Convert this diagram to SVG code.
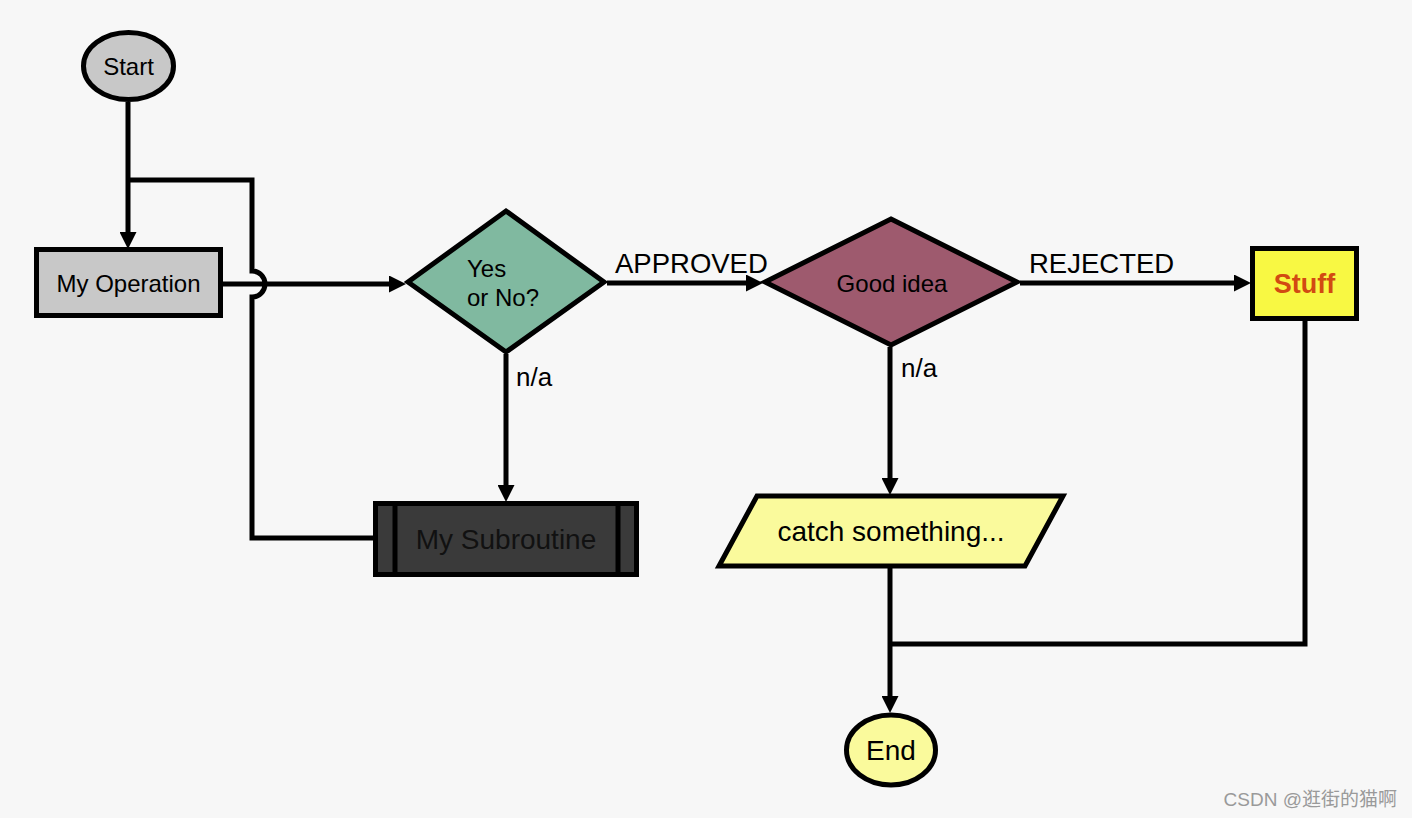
<svg xmlns="http://www.w3.org/2000/svg" width="1412" height="818" viewBox="0 0 1412 818">
<defs>
<marker id="arr" markerUnits="userSpaceOnUse" markerWidth="17" markerHeight="17" refX="8" refY="8.5" orient="auto">
<path d="M0,0 L17,8.5 L0,17 z" fill="#000"/>
</marker>
<style>
.sh{stroke:#000;stroke-width:5}
.c{fill:none;stroke:#000;stroke-width:5}
.t{font-family:"Liberation Sans",Arial,sans-serif;fill:#000;text-anchor:middle}
.lb{font-family:"Liberation Sans",Arial,sans-serif;fill:#000;font-size:27.5px}
</style>
</defs>
<rect width="1412" height="818" fill="#f7f7f7"/>
<g id="connectors">
<path class="c" d="M128,102 V240" marker-end="url(#arr)"/>
<path class="c" d="M373,538 H252 V297 a13,13 0 0 0 0,-26 V180 H128"/>
<path class="c" d="M223,284 H397" marker-end="url(#arr)"/>
<path class="c" d="M607,283 H754" marker-end="url(#arr)"/>
<path class="c" d="M1020,283 H1242" marker-end="url(#arr)"/>
<path class="c" d="M506,354 V493" marker-end="url(#arr)"/>
<path class="c" d="M890,347 V486" marker-end="url(#arr)"/>
<path class="c" d="M890,568 V704" marker-end="url(#arr)"/>
<path class="c" d="M1305,320 V644 H890"/>
<text class="lb" x="615" y="273">APPROVED</text>
<text class="lb" x="1029" y="273">REJECTED</text>
<text class="lb" x="516" y="386" style="font-size:26px">n/a</text>
<text class="lb" x="901" y="377" style="font-size:26px">n/a</text>
</g>
<g id="start">
<ellipse class="sh" cx="128.5" cy="66" rx="45" ry="33.5" fill="#c8c8c8"/>
<text class="t" x="128.5" y="75" font-size="24">Start</text>
</g>
<g id="myop">
<rect class="sh" x="36.5" y="249.5" width="184" height="66" fill="#c8c8c8"/>
<text class="t" x="128.5" y="292" font-size="24">My Operation</text>
</g>
<g id="yesno">
<polygon class="sh" points="506,211 604,282 506,352 408,282" fill="#80b9a0"/>
<text class="t" x="467" y="277" font-size="24" style="text-anchor:start">Yes</text>
<text class="t" x="467" y="306" font-size="24" style="text-anchor:start">or No?</text>
</g>
<g id="goodidea">
<polygon class="sh" points="891,219 1017,282 891,345 765,282" fill="#9e5a6e"/>
<text class="t" x="892" y="292" font-size="24">Good idea</text>
</g>
<g id="stuff">
<rect class="sh" x="1252.5" y="248.5" width="104" height="70" fill="#f8f843"/>
<text class="t" x="1304.5" y="293" font-size="27" font-weight="bold" style="fill:#d24a12">Stuff</text>
</g>
<g id="subroutine">
<rect class="sh" x="375.5" y="503.5" width="261" height="71" fill="#3a3a3a"/>
<line class="sh" x1="395" y1="503" x2="395" y2="575"/>
<line class="sh" x1="618" y1="503" x2="618" y2="575"/>
<text class="t" x="506" y="549" font-size="28" style="fill:#111">My Subroutine</text>
</g>
<g id="catch">
<polygon class="sh" points="757,496 1063,496 1025,566 719,566" fill="#fafa9c"/>
<text class="t" x="891" y="541" font-size="28">catch something...</text>
</g>
<g id="end">
<ellipse class="sh" cx="891" cy="750" rx="44.5" ry="35" fill="#fafa9c"/>
<text class="t" x="891" y="760" font-size="28">End</text>
</g>
<text x="1397" y="806" font-family="'Liberation Sans','Noto Sans CJK SC',sans-serif" font-size="19" fill="#9a9a9a" text-anchor="end">CSDN @逛街的猫啊</text>
</svg>
